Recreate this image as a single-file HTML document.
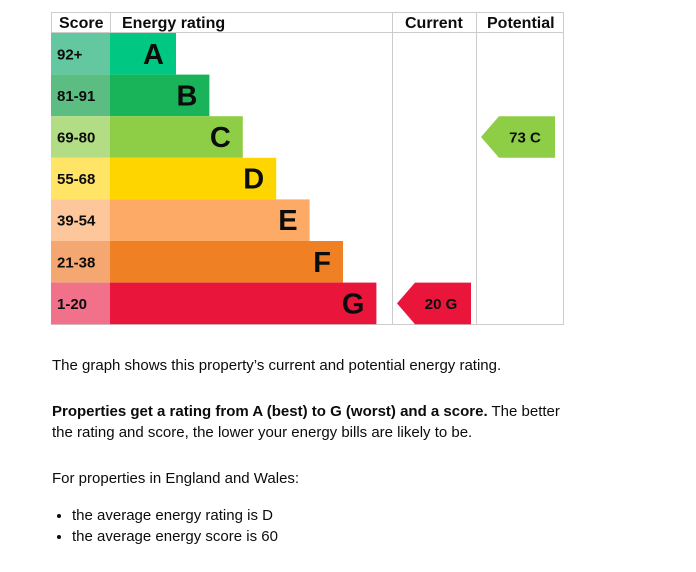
<!DOCTYPE html>
<html><head><meta charset="utf-8"><style>
body{margin:0;width:696px;height:572px;background:#fff;font-family:"Liberation Sans",Arial,sans-serif;color:#0b0c0c;position:relative;overflow:hidden}
svg{position:absolute;left:0;top:0}
.t{position:absolute;left:52px;font-size:15px;line-height:21px;margin:0}
ul{position:absolute;left:52px;top:505px;margin:0;padding:0 0 0 20px;font-size:15px;line-height:21px}
</style></head><body>
<svg width="696" height="340">
<g id="g"></g>
</svg>
<p class="t" style="top:355px">The graph shows this property’s current and potential energy rating.</p>
<p class="t" style="top:401px;width:520px"><b>Properties get a rating from A (best) to G (worst) and a score.</b> The better the rating and score, the lower your energy bills are likely to be.</p>
<p class="t" style="top:468px">For properties in England and Wales:</p>
<ul>
<li>the average energy rating is D</li>
<li>the average energy score is 60</li>
</ul>
<script>
const bands=["A","B","C","D","E","F","G"];
const ranges=["92+","81-91","69-80","55-68","39-54","21-38","1-20"];
const barColors=["#00c781","#19b459","#8dce46","#ffd500","#fcaa65","#ef8023","#e9153b"];
const scoreColors=["#63c7a0","#5bbd82","#b3dd85","#ffe466","#fdc79b","#f4a770","#f1718a"];
const currentScore=20, currentBand="G";
const potentialScore=73, potentialBand="C";
const NS="http://www.w3.org/2000/svg",g=document.getElementById("g");
function el(t,a,txt){const e=document.createElementNS(NS,t);for(const k in a)e.setAttribute(k,a[k]);if(txt!=null)e.textContent=txt;g.appendChild(e);return e;}
const top0=33,rowH=41.6,x0=51,xs=110;
const rowY=i=>top0+i*rowH;
const barEnd=i=>176+i*33.4;
// frame
let f=el("rect",{x:51.5,y:12.5,width:512,height:312,fill:"none",stroke:"#ccc"});

[[110,12,110,33],[392,12,392,324],[476,12,476,324],[51,32.5,563,32.5]].forEach(l=>{const e=el("line",{x1:l[0]+.5,y1:l[1],x2:l[2]+.5,y2:l[3],stroke:"#ccc"});
});
[["Score",59],["Energy rating",122],["Current",405],["Potential",487]].forEach(h=>{const e=el("text",{x:h[1],y:28,"font-size":16,"font-weight":"bold",fill:"#0b0c0c"},h[0]);
});
bands.forEach((b,i)=>{const y=rowY(i);
let s=el("rect",{x:x0,y:y,width:xs-x0,height:rowH,fill:scoreColors[i]});

let st=el("text",{x:57,y:y+rowH/2+5.5,"font-size":15,"font-weight":"bold",fill:"#0b0c0c"},ranges[i]);

let r=el("rect",{x:xs,y:y,width:barEnd(i)-xs,height:rowH,fill:barColors[i]});

let t=el("text",{x:barEnd(i)-12,y:y+rowH/2+10,"font-size":29,"font-weight":"bold","text-anchor":"end",fill:"#0b0c0c"},b);
});
function arrow(score,band,xl,xr,name){const i=bands.indexOf(band),y=rowY(i),c=barColors[i];
let p=el("polygon",{points:`${xl},${y+rowH/2} ${xl+18},${y} ${xr},${y} ${xr},${y+rowH} ${xl+18},${y+rowH}`,fill:c});

let t=el("text",{x:(xl+xr)/2+7,y:y+rowH/2+5.5,"font-size":15,"font-weight":"bold","text-anchor":"middle",fill:"#0b0c0c","xml:space":"preserve"},score+"  "+band);
}
arrow(currentScore,currentBand,397,471,'current-rating');
arrow(potentialScore,potentialBand,481,555,'potential-rating');
</script>
</body></html>
